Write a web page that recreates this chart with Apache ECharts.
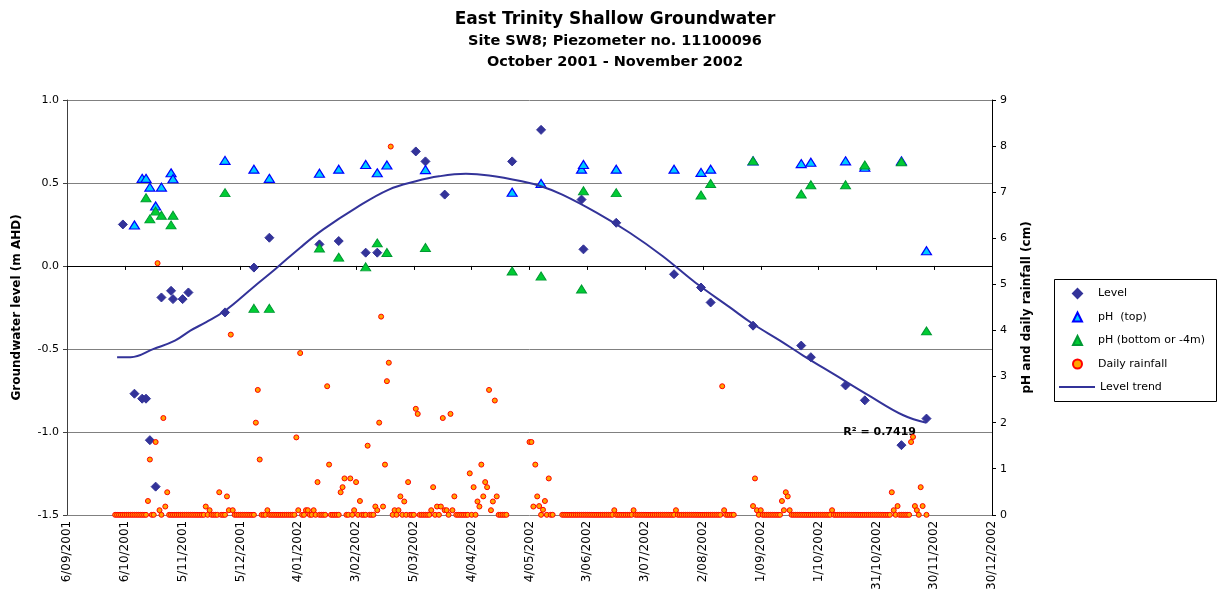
<!DOCTYPE html>
<html>
<head>
<meta charset="utf-8">
<title>East Trinity Shallow Groundwater</title>
<script src="https://cdn.jsdelivr.net/npm/echarts@6/dist/echarts.min.js"></script>
<style>
    html, body { margin: 0; padding: 0; background: #ffffff; }
    #chart_content { width: 1225px; height: 593px; }
</style>
</head>
<body>
<div id="chart_content"></div>
<script>
// all x values are days counted from 6/09/2001
const dayZero = Date.UTC(2001, 8, 6);
const axisMinDay = 0;
const axisMaxDay = 480;
const tickStepDays = 30;

// groundwater level (m AHD), left axis
const levelDays = [29, 35, 39, 41, 43, 46, 49, 54, 55, 60, 63, 82, 97, 105, 131, 141, 155, 161, 181, 186,
    196, 231, 246, 267, 268, 285, 315, 329, 334, 356, 381, 386, 404, 414, 433, 446];
const levelValues = [0.25, -0.77, -0.80, -0.80, -1.05, -1.33, -0.19, -0.15, -0.20, -0.20, -0.16, -0.28, -0.01, 0.17, 0.13, 0.15, 0.08, 0.08, 0.69, 0.63,
    0.43, 0.63, 0.82, 0.40, 0.10, 0.26, -0.05, -0.13, -0.22, -0.36, -0.48, -0.55, -0.72, -0.81, -1.08, -0.92];

// pH (top), right axis
const phTopDays = [35, 39, 41, 43, 46, 49, 54, 55, 82, 97, 105, 131, 141, 155, 161, 166, 186, 231, 246, 267,
    268, 285, 315, 329, 334, 356, 381, 386, 404, 414, 433, 446];
const phTopValues = [6.29, 7.30, 7.30, 7.11, 6.70, 7.11, 7.42, 7.29, 7.69, 7.50, 7.30, 7.41, 7.50, 7.60, 7.42, 7.59, 7.49, 7.00, 7.19, 7.50,
    7.60, 7.50, 7.50, 7.43, 7.50, 7.68, 7.62, 7.65, 7.68, 7.54, 7.68, 5.73];

// pH (bottom or -4m), right axis
const phBottomDays = [41, 43, 46, 49, 54, 55, 82, 97, 105, 131, 141, 155, 161, 166, 186, 231, 246, 267, 268, 285,
    329, 334, 356, 381, 386, 404, 414, 433, 446];
const phBottomValues = [6.88, 6.42, 6.59, 6.50, 6.29, 6.50, 6.99, 4.48, 4.48, 5.79, 5.59, 5.38, 5.90, 5.69, 5.80, 5.29, 5.18, 4.90, 7.03, 6.99,
    6.94, 7.19, 7.68, 6.96, 7.16, 7.16, 7.59, 7.66, 3.99];

// daily rainfall (cm), right axis, one value per day from rainStartDay; null = no record
const rainStartDay = 25;
const rainValues = [
    0, 0, 0, 0, 0, 0, 0, 0, 0, 0,
    0, 0, 0, 0, 0, 0, 0, 0.30, 1.20, 0,
    0, 1.58, 5.46, 0.10, 0, 2.10, 0.18, 0.49, 0, 0,
    0, 0, 0, 0, 0, 0, 0, 0, 0, 0,
    0, 0, 0, 0, 0, 0, 0, 0.18, 0, 0.10,
    0, 0, 0, 0, 0.49, 0, 0, 0, 0.40, 0.10,
    3.91, 0.10, 0, 0, 0, 0, 0, 0, 0, 0,
    0, 0, 0, 2.00, 2.71, 1.20, 0, 0, 0, 0.10,
    0, 0, 0, 0, 0, 0, 0, 0, 0, 0,
    0, 0, 0, 0, 1.68, 0.10, 3.51, 0, 0, 0.10,
    0.10, 0, 0, 0.10, 0, 0.71, 0, 0, 0, 0,
    2.79, 1.09, 0, 0, 0, 0, 0, 0.49, 0.60, 0.79,
    0, 0, 0.79, 0, 0.10, 0.71, 0, 0.30, 0, 0,
    0, 1.50, 0, 0, 0, 0.18, 0.10, 2.00, 4.30, 0.18,
    1.09, 2.90, 3.30, 7.99, 0, 0.10, 0, 0.10, 0.40, 0,
    0.29, 0, 0.71, 0, 0, 0, 2.30, 2.19, 0, 0,
    0, 0, 0, 0, 0.10, 0.60, 0, 0.18, 0, 0.18,
    2.10, 0.10, 0.10, 0, 2.19, 0.10, 0.40, 0, 0, 0,
    0, 0, 0, 0, 0.90, 0, 0.60, 0, 0.29, 0.18,
    1.09, 0.40, 0.71, 0.60, 2.71, 0.10, 0.29, 2.48, 0.40, 0,
    0, 0, 0, 0, null, null, null, null, null, null,
    null, null, null, null, null, 1.58, 1.58, 0.18, 1.09, 0.40,
    0.19, 0, 0.11, 0.30, 0, 0.79, 0, 0, null, null,
    null, null, 0, 0, 0, 0, 0, 0, 0, 0,
    0, 0, 0, 0, 0, 0, 0, 0, 0, 0,
    0, 0, 0, 0, 0, 0, 0, 0, 0, 0.10,
    0, 0, 0, 0, 0, 0, 0, 0, 0, 0.10,
    0, 0, 0, 0, 0, 0, 0, 0, 0, 0,
    0, 0, 0, 0, 0, 0, 0, 0, 0, 0,
    0, 0.10, 0, 0, 0, 0, 0, 0, 0, 0,
    0, 0, 0, 0, 0, 0, 0, 0, 0, 0,
    0, 0, 0, 0, 0, 2.79, 0.10, 0, 0, 0,
    0, 0, null, null, null, null, null, null, null, null,
    null, 0.19, 0.79, 0.10, 0, 0.10, 0, 0, 0, 0,
    0, 0, 0, 0, 0, 0, 0.30, 0.10, 0.49, 0.40,
    0.10, 0, 0, 0, 0, 0, 0, 0, 0, 0,
    0, 0, 0, 0, 0, 0, 0, 0, 0, 0,
    0, 0, 0.10, 0, 0, 0, 0, 0, 0, 0,
    0, 0, 0, 0, 0, 0, 0, 0, 0, 0,
    0, 0, 0, 0, 0, 0, 0, 0, 0, 0,
    0, 0, 0, 0.49, 0.10, 0, 0.19, 0, 0, 0,
    0, 0, 0, 1.58, 1.69, 0.19, 0.10, 0, 0.60, 0.19,
    null, 0
];

// polynomial level trend as drawn on the chart, left axis
const trendDays = [26, 33, 45, 56, 64, 72, 82, 97, 108, 121, 133, 150, 167, 181, 193, 207, 219, 236, 246, 257,
    275, 292, 309, 326, 344, 356, 370, 382, 399, 416, 434, 446];
const trendValues = [-0.55, -0.55, -0.50, -0.45, -0.39, -0.34, -0.27, -0.125, -0.02, 0.11, 0.22, 0.35, 0.46, 0.51, 0.54, 0.555, 0.545, 0.51, 0.48, 0.43,
    0.32, 0.20, 0.06, -0.10, -0.25, -0.35, -0.45, -0.54, -0.66, -0.78, -0.90, -0.945];
const trendR2 = 'R² = 0.7419';

const fontName = 'DejaVu Sans, Liberation Sans, sans-serif';

function pairs(days, values) {
    return days.map(function (d, i) { return [d, values[i]]; });
}

function dayLabel(d) {
    const t = new Date(dayZero + d * 86400000);
    return t.getUTCDate() + '/' + String(t.getUTCMonth() + 1).padStart(2, '0') + '/' + t.getUTCFullYear();
}

const rainData = [];
rainValues.forEach(function (v, i) {
    if (v !== null) rainData.push([rainStartDay + i, v]);
});

const chart = echarts.init(document.getElementById('chart_content'));
const option = {
    animation: false,
    backgroundColor: '#ffffff',
    textStyle: { fontFamily: fontName },
    title: {
        text: 'East Trinity Shallow Groundwater',
        subtext: 'Site SW8; Piezometer no. 11100096\nOctober 2001 - November 2002',
        left: 610,
        textAlign: 'center',
        top: 6,
        itemGap: 3,
        textStyle: { fontSize: 17, fontWeight: 'bold', color: '#000', fontFamily: fontName },
        subtextStyle: { fontSize: 14.5, fontWeight: 'bold', color: '#000', lineHeight: 21, fontFamily: fontName }
    },
    grid: { left: 67, right: 233, top: 100, bottom: 76 },
    xAxis: [
        {
            type: 'value',
            min: axisMinDay,
            max: axisMaxDay,
            interval: tickStepDays,
            position: 'bottom',
            axisLine: { show: false, onZero: false },
            axisTick: { show: false },
            splitLine: { show: false },
            axisLabel: {
                rotate: 90,
                margin: 6,
                fontSize: 12,
                color: '#000',
                fontFamily: fontName,
                showMinLabel: true,
                showMaxLabel: true,
                formatter: dayLabel
            }
        },
        {
            // the axis line with ticks sits on level 0.0, as in the original
            type: 'value',
            min: axisMinDay,
            max: axisMaxDay,
            interval: tickStepDays,
            position: 'bottom',
            axisLine: { show: true, onZero: true, onZeroAxisIndex: 0, lineStyle: { color: '#000', width: 1 } },
            axisTick: { show: true, length: 4, lineStyle: { color: '#000' } },
            axisLabel: { show: false },
            splitLine: { show: false }
        }
    ],
    yAxis: [
        {
            type: 'value',
            min: -1.5,
            max: 1.0,
            interval: 0.5,
            position: 'left',
            name: 'Groundwater level (m AHD)',
            nameLocation: 'middle',
            nameGap: 44,
            nameTextStyle: { fontSize: 12, fontWeight: 'bold', color: '#000', fontFamily: fontName },
            axisLine: { show: true, onZero: false, lineStyle: { color: '#404040', width: 1 } },
            axisTick: { show: true, length: 4, lineStyle: { color: '#404040' } },
            axisLabel: {
                fontSize: 11, color: '#000', margin: 8, fontFamily: fontName,
                formatter: function (v) { return v.toFixed(1); }
            },
            splitLine: { show: true, lineStyle: { color: '#808080', width: 1 } }
        },
        {
            type: 'value',
            min: 0,
            max: 9,
            interval: 1,
            position: 'right',
            name: 'pH and daily rainfall (cm)',
            nameLocation: 'middle',
            nameRotate: 90,
            nameGap: 29,
            nameTextStyle: { fontSize: 12, fontWeight: 'bold', color: '#000', fontFamily: fontName },
            axisLine: { show: true, onZero: false, lineStyle: { color: '#000', width: 1 } },
            axisTick: { show: true, length: 4, lineStyle: { color: '#000' } },
            axisLabel: { fontSize: 11, color: '#000', margin: 8, fontFamily: fontName },
            splitLine: { show: false }
        }
    ],
    legend: [
        {
            data: ['Level', 'pH  (top)', 'pH (bottom or -4m)', 'Daily rainfall'],
            orient: 'vertical',
            left: 1072,
            top: 288,
            padding: 0,
            itemWidth: 9,
            itemHeight: 9,
            itemGap: 12.5,
            textStyle: { fontSize: 11, color: '#000', fontFamily: fontName, padding: [0, 0, 0, 11] }
        },
        {
            data: [{ name: 'Level trend', icon: 'rect' }],
            orient: 'vertical',
            left: 1059,
            top: 381.5,
            padding: 0,
            itemWidth: 36,
            itemHeight: 2,
            textStyle: { fontSize: 11, color: '#000', fontFamily: fontName }
        }
    ],
    graphic: [
        {
            type: 'rect',
            shape: { x: 1054.5, y: 279.5, width: 162, height: 122 },
            style: { fill: 'none', stroke: '#000', lineWidth: 1 },
            silent: true
        }
    ],
    series: [
        {
            name: 'Level',
            type: 'scatter',
            xAxisIndex: 0,
            yAxisIndex: 0,
            symbol: 'diamond',
            symbolSize: 9,
            itemStyle: { color: '#333399', borderColor: '#333399', borderWidth: 1, opacity: 1 },
            data: pairs(levelDays, levelValues),
            z: 2
        },
        {
            name: 'pH  (top)',
            type: 'scatter',
            xAxisIndex: 0,
            yAxisIndex: 1,
            symbol: 'triangle',
            symbolSize: [10, 8],
            itemStyle: { color: '#00CCFF', borderColor: '#0000FF', borderWidth: 1.2, opacity: 1 },
            data: pairs(phTopDays, phTopValues),
            z: 3
        },
        {
            name: 'pH (bottom or -4m)',
            type: 'scatter',
            xAxisIndex: 0,
            yAxisIndex: 1,
            symbol: 'triangle',
            symbolSize: [10, 8],
            itemStyle: { color: '#00CC33', borderColor: '#009933', borderWidth: 1, opacity: 1 },
            data: pairs(phBottomDays, phBottomValues),
            z: 4
        },
        {
            name: 'Daily rainfall',
            type: 'scatter',
            xAxisIndex: 0,
            yAxisIndex: 1,
            symbol: 'circle',
            symbolSize: 5,
            itemStyle: { color: '#FFA500', borderColor: '#FF0000', borderWidth: 1, opacity: 1 },
            data: rainData,
            z: 5
        },
        {
            name: 'Level trend',
            type: 'line',
            xAxisIndex: 0,
            yAxisIndex: 0,
            smooth: 0.4,
            symbol: 'none',
            lineStyle: { color: '#333399', width: 2 },
            itemStyle: { color: '#333399' },
            data: pairs(trendDays, trendValues),
            z: 6,
            markPoint: {
                symbol: 'circle',
                symbolSize: 1,
                itemStyle: { color: 'rgba(0,0,0,0)' },
                label: {
                    show: true,
                    position: 'left',
                    distance: 10,
                    offset: [0, 9],
                    formatter: trendR2,
                    fontSize: 11,
                    fontWeight: 'bold',
                    color: '#000',
                    fontFamily: fontName
                },
                data: [{ coord: [trendDays[trendDays.length - 1], trendValues[trendValues.length - 1]] }]
            }
        }
    ]
};
chart.setOption(option);
</script>
</body>
</html>
